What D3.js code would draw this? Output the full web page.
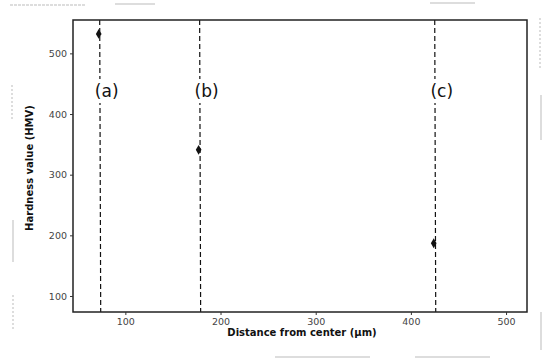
<!DOCTYPE html>
<html><head><meta charset="utf-8">
<script src="https://cdn.jsdelivr.net/npm/d3@7"></script>
<style>body{margin:0;background:#fff}svg{display:block}</style>
</head><body>
<svg id="c" width="547" height="358"></svg>
<script>
const labels = ["(a)", "(b)", "(c)"];
const distance = [72, 177, 424];
const hardness = [532, 341, 187];
const xTicks = [100, 200, 300, 400, 500];
const yTicks = [100, 200, 300, 400, 500];

const svg = d3.select("#c");
const m = {l:73, t:20, r:527, b:312};
const x = d3.scaleLinear().domain([45, 522]).range([m.l, m.r]);
const y = d3.scaleLinear().domain([73.6, 555]).range([m.b, m.t]);

// faint scan artifacts
const art = svg.append("g").attr("stroke","#bbb").attr("stroke-width",1).attr("fill","none");
art.append("line").attr("x1",10).attr("x2",85).attr("y1",5).attr("y2",5).attr("stroke-dasharray","3,1");
art.append("line").attr("x1",115).attr("x2",155).attr("y1",4).attr("y2",4);
art.append("line").attr("x1",430).attr("x2",475).attr("y1",3).attr("y2",3);
art.append("line").attr("x1",12).attr("x2",12).attr("y1",85).attr("y2",120).attr("stroke-dasharray","2,2");
art.append("line").attr("x1",13).attr("x2",13).attr("y1",220).attr("y2",262);
art.append("line").attr("x1",13).attr("x2",13).attr("y1",295).attr("y2",330).attr("stroke-dasharray","2,2");
art.append("line").attr("x1",540).attr("x2",540).attr("y1",18).attr("y2",70).attr("stroke-dasharray","2,2");
art.append("line").attr("x1",541).attr("x2",541).attr("y1",95).attr("y2",140);
art.append("line").attr("x1",541).attr("x2",541).attr("y1",312).attr("y2",350);
art.append("line").attr("x1",275).attr("x2",370).attr("y1",357).attr("y2",357);
art.append("line").attr("x1",415).attr("x2",490).attr("y1",357).attr("y2",357);

// dashed lines
svg.append("g").selectAll("line").data(distance).join("line")
  .attr("x1", d=>x(d)+1).attr("x2", d=>x(d)+2)
  .attr("y1", m.t).attr("y2", m.b)
  .attr("stroke","#111").attr("stroke-width",1.2).attr("stroke-dasharray","5,3");

// labels with white background
const lg = svg.append("g");
labels.forEach((t,i)=>{
  const cx = x(distance[i]) + 8;
  lg.append("rect").attr("x", cx-13).attr("y", 79).attr("width", 26).attr("height", 24).attr("fill","#fff");
  lg.append("text").attr("x", cx).attr("y", 97).attr("text-anchor","middle")
    .attr("font-family","DejaVu Sans, sans-serif").attr("font-size",17).attr("fill","#111").text(t);
});

// points
svg.append("g").selectAll("path").data(distance).join("path")
  .attr("transform",(d,i)=>`translate(${x(d)},${y(hardness[i])})`)
  .attr("d", d3.symbol().type(d3.symbolDiamond).size(28))
  .attr("fill","#111");

// frame
svg.append("rect").attr("x",m.l).attr("y",m.t).attr("width",m.r-m.l).attr("height",m.b-m.t)
  .attr("fill","none").attr("stroke","#222").attr("stroke-width",1.5);

// axes
const xa = svg.append("g").attr("transform",`translate(0,${m.b})`)
  .call(d3.axisBottom(x).tickValues(xTicks).tickSize(3).tickPadding(3).tickSizeOuter(0));
const ya = svg.append("g").attr("transform",`translate(${m.l},0)`)
  .call(d3.axisLeft(y).tickValues(yTicks).tickSize(3).tickSizeOuter(0));
[xa,ya].forEach(a=>{
  a.select(".domain").remove();
  a.selectAll("line").attr("stroke","#333");
  a.selectAll("text").attr("font-family","DejaVu Sans, sans-serif").attr("font-size",9.5).attr("fill","#444");
});

svg.append("text").attr("x",(m.l+m.r)/2+2).attr("y",336).attr("text-anchor","middle")
  .attr("font-family","DejaVu Sans, sans-serif").attr("font-weight","bold").attr("font-size",10)
  .attr("fill","#111").text("Distance from center (μm)");
svg.append("text").attr("transform",`translate(33,168) rotate(-90)`).attr("text-anchor","middle")
  .attr("font-family","DejaVu Sans, sans-serif").attr("font-weight","bold").attr("font-size",10)
  .attr("fill","#111").text("Hardness value (HMV)");
</script>
</body></html>
